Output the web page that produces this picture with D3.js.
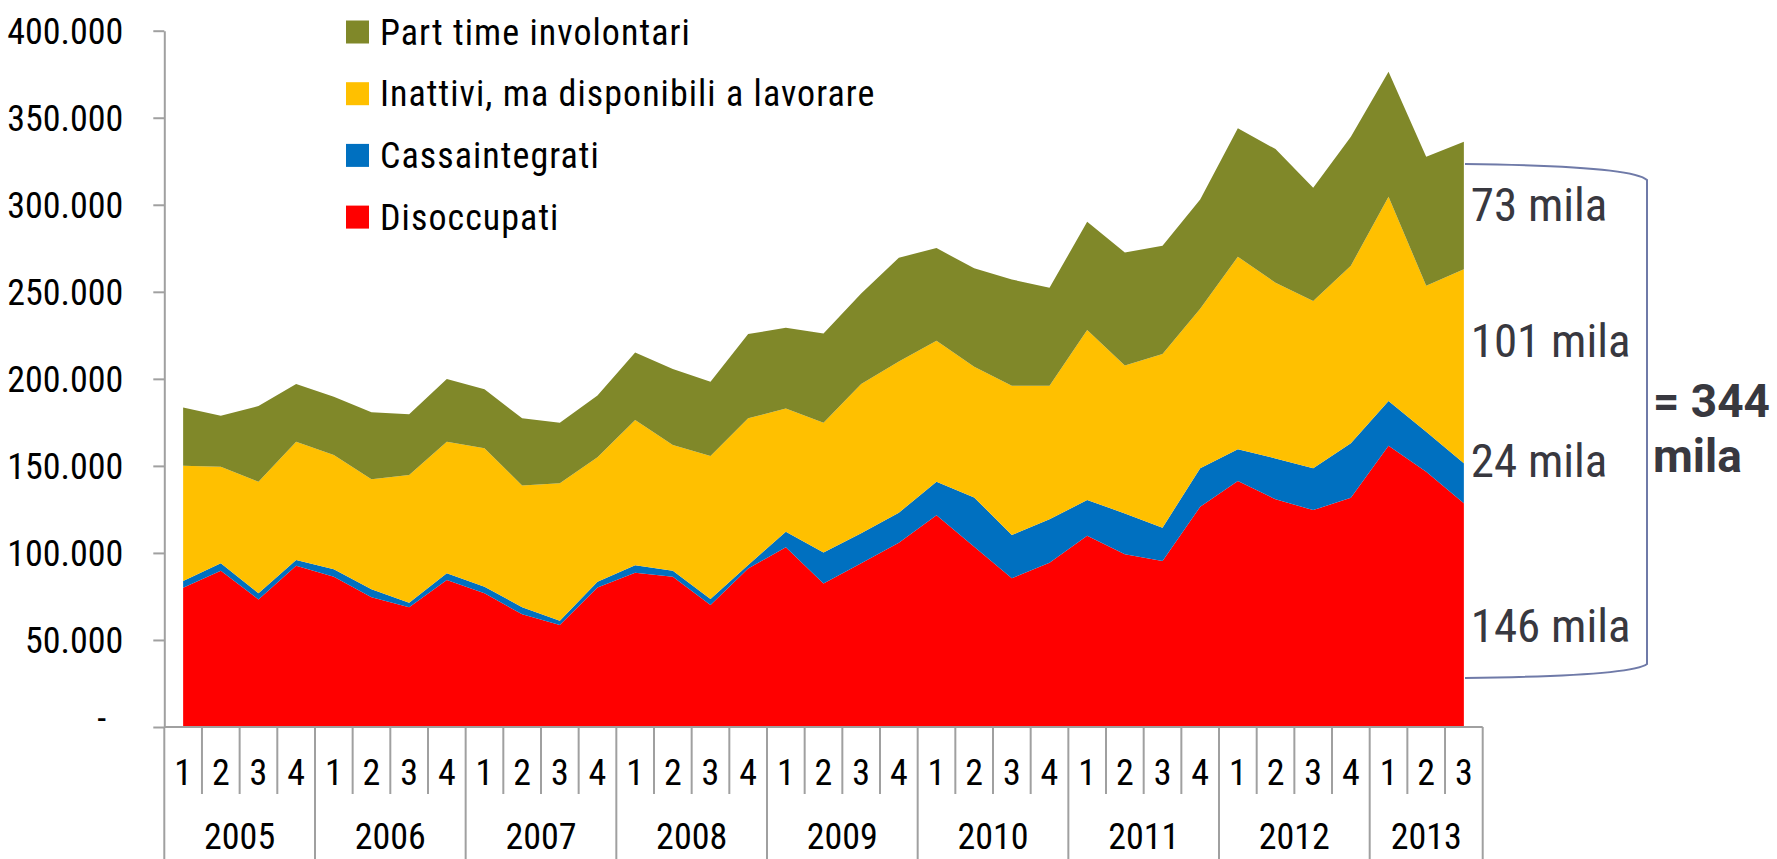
<!DOCTYPE html>
<html>
<head>
<meta charset="utf-8">
<script src="https://cdn.jsdelivr.net/npm/d3@7"></script>
<style>
  body { margin: 0; background: #fff; }
  svg { display: block; }
  .tick text, .lbl { font-family: "Liberation Sans Narrow", "Arial Narrow", "Roboto Condensed", sans-serif; }
</style>
</head>
<body>
<svg id="chart"></svg>
<script>
const width = 1777;
const height = 859;

// quarterly data, 2005 Q1 .. 2013 Q3
const years = ['2005', '2006', '2007', '2008', '2009', '2010', '2011', '2012', '2013'];
const quarters = ['1', '2', '3', '4'];

const disoccupati = [80000, 89800, 73300, 92700, 86300, 74500, 68800, 84400, 76800, 64700, 58600, 80200,
  88600, 86300, 70100, 91100, 103200, 82500, 94000, 105900, 121600, 103600, 85400, 94400,
  109900, 99200, 95400, 126500, 141300, 130800, 124600, 131700, 161600, 146700, 128500];
const cassaintegrati = [3900, 4200, 3500, 3200, 4300, 4600, 2600, 3900, 3800, 4100, 2500, 3300,
  4300, 3500, 3400, 1900, 9000, 17800, 17300, 17200, 19300, 28300, 24900, 24900,
  20500, 23500, 19100, 22100, 18200, 23500, 24000, 31300, 25700, 22900, 23000];
const inattivi = [66200, 55500, 64100, 68000, 65600, 63200, 73300, 75600, 79500, 70000, 78900, 71500,
  83400, 72200, 82200, 84300, 70800, 74500, 85700, 86800, 81000, 75100, 85700, 76700,
  97600, 84900, 99800, 91600, 110600, 100900, 96100, 102000, 117300, 83900, 111400];
const partTime = [33500, 29300, 43500, 33100, 33500, 38500, 34900, 36000, 33900, 38500, 34800, 35500,
  38900, 43600, 42600, 48400, 46400, 51300, 52100, 59700, 53200, 56500, 61100, 56300,
  62200, 65000, 62200, 62900, 73800, 76800, 65100, 74100, 71800, 74100, 73300];

const seriesKeys = ['Disoccupati', 'Cassaintegrati', 'Inattivi, ma disponibili a lavorare', 'Part time involontari'];
const seriesColors = ['#ff0000', '#0070c0', '#ffc000', '#808829'];
const yTicks = [0, 50000, 100000, 150000, 200000, 250000, 300000, 350000, 400000];
const sideLabels = ['73 mila', '101 mila', '24 mila', '146 mila'];
const totalLabel = ['= 344', 'mila'];

// build category table
const cats = [];
years.forEach((y) => quarters.forEach((q) => cats.push({ year: y, q })));
cats.length = disoccupati.length;
const table = cats.map((c, i) => ({
  id: i, year: c.year, q: c.q,
  'Disoccupati': disoccupati[i],
  'Cassaintegrati': cassaintegrati[i],
  'Inattivi, ma disponibili a lavorare': inattivi[i],
  'Part time involontari': partTime[i]
}));

const svg = d3.select('#chart')
  .attr('width', width)
  .attr('height', height);

const x = d3.scaleBand()
  .domain(table.map((d) => d.id))
  .range([164.3, 1482.7])
  .padding(0);

const y = d3.scaleLinear()
  .domain([0, 400000])
  .range([727, 30.7]);

const color = d3.scaleOrdinal(seriesKeys, seriesColors);

const stack = d3.stack().keys(seriesKeys);
const layers = stack(table);

const area = d3.area()
  .x((d) => x(d.data.id) + x.bandwidth() / 2)
  .y0((d) => y(d[0]))
  .y1((d) => y(d[1]));

svg.append('g')
  .selectAll('path')
  .data(layers)
  .enter()
  .append('path')
    .attr('d', area)
    .attr('fill', (d) => color(d.key));

// y axis
const it = d3.formatLocale({ decimal: ',', thousands: '.', grouping: [3], currency: ['', '€'] });
const fmt = it.format(',');

const yAxis = svg.append('g')
  .attr('transform', 'translate(164.3,0)')
  .call(d3.axisLeft(y)
    .tickValues(yTicks)
    .tickSize(11)
    .tickSizeOuter(0)
    .tickPadding(30)
    .tickFormat((d) => d === 0 ? '-' : fmt(d)));

yAxis.select('.domain').attr('stroke', '#a0a0a0').attr('stroke-width', 2);
yAxis.selectAll('.tick line').attr('stroke', '#a0a0a0').attr('stroke-width', 2);
yAxis.selectAll('.tick text')
  .attr('font-size', 36)
  .attr('fill', '#000')
  .attr('dy', '0.35em');
yAxis.selectAll('.tick').filter((d) => d === 0).select('text')
  .attr('x', -58).attr('dy', '0.1em');

// x axis: baseline, separators, labels
const xg = svg.append('g');
xg.append('line')
  .attr('x1', 164.3).attr('x2', 1482.7)
  .attr('y1', 727).attr('y2', 727)
  .attr('stroke', '#a0a0a0').attr('stroke-width', 2);

const bounds = table.map((d) => ({ x: x(d.id), yearStart: d.q === '1' }));
bounds.push({ x: x.range()[1], yearStart: true });

xg.selectAll('line.sep')
  .data(bounds)
  .enter()
  .append('line')
    .attr('class', 'sep')
    .attr('x1', (d) => d.x).attr('x2', (d) => d.x)
    .attr('y1', 727)
    .attr('y2', (d) => d.yearStart ? height : 794)
    .attr('stroke', '#a0a0a0').attr('stroke-width', 2);

xg.selectAll('text.q')
  .data(table)
  .enter()
  .append('text')
    .attr('class', 'lbl')
    .attr('x', (d) => x(d.id) + x.bandwidth() / 2)
    .attr('y', 785)
    .attr('text-anchor', 'middle')
    .attr('font-size', 36)
    .text((d) => d.q);

const yearGroups = d3.groups(table, (d) => d.year);
xg.selectAll('text.yr')
  .data(yearGroups)
  .enter()
  .append('text')
    .attr('class', 'lbl')
    .attr('x', (d) => {
      const first = d[1][0], last = d[1][d[1].length - 1];
      return (x(first.id) + x(last.id) + x.bandwidth()) / 2;
    })
    .attr('y', 849)
    .attr('text-anchor', 'middle')
    .attr('font-size', 36)
    .text((d) => d[0]);

// legend
const legendKeys = seriesKeys.slice().reverse();
const legend = svg.append('g')
  .selectAll('g')
  .data(legendKeys)
  .enter()
  .append('g')
    .attr('transform', (d, i) => `translate(346, ${32 + i * 61.7})`);

legend.append('rect')
  .attr('x', 0).attr('y', -11.5)
  .attr('width', 23).attr('height', 23)
  .attr('fill', (d) => color(d));

legend.append('text')
  .attr('class', 'lbl')
  .attr('x', 34)
  .attr('y', 12.5)
  .attr('font-size', 36)
  .attr('letter-spacing', 1.05)
  .text((d) => d);

// bracket and side annotations
svg.append('path')
  .attr('d', 'M1465,164 Q1632,166 1647,180 L1647,664 Q1632,676 1465,678')
  .attr('fill', 'none')
  .attr('stroke', '#6f7aa8')
  .attr('stroke-width', 2);

const sideY = [220.7, 356.7, 476.7, 641.7];
svg.append('g')
  .selectAll('text')
  .data(sideLabels)
  .enter()
  .append('text')
    .attr('class', 'lbl')
    .attr('x', 1470.7)
    .attr('y', (d, i) => sideY[i])
    .attr('font-size', 47)
    .attr('fill', '#38383f')
    .text((d) => d);

svg.append('g')
  .selectAll('text')
  .data(totalLabel)
  .enter()
  .append('text')
    .attr('x', 1653)
    .attr('y', (d, i) => 416.7 + i * 55.5)
    .attr('font-family', 'Roboto, "Liberation Sans", sans-serif')
    .attr('font-weight', 'bold')
    .attr('font-size', 46)
    .attr('fill', '#38383f')
    .text((d) => d);
</script>
</body>
</html>
